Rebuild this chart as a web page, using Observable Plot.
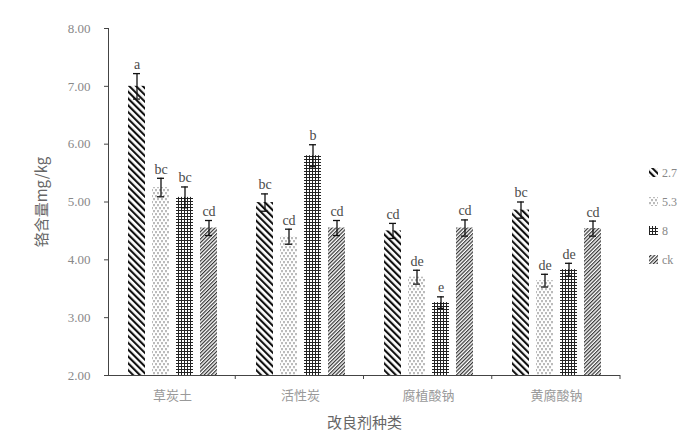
<!DOCTYPE html>
<html><head><meta charset="utf-8">
<script src="https://cdn.jsdelivr.net/npm/d3@7"></script>
<script src="https://cdn.jsdelivr.net/npm/@observablehq/plot@0.6"></script>
<style>
body{margin:0;background:#fff;}
#chart svg{font-family:"Liberation Serif","Noto Sans CJK SC",serif;background:#fff;}
g[aria-label="y-axis label"] text{font-size:15px;fill:#666;font-family:"Noto Sans CJK SC",sans-serif;}
g[aria-label="fx-axis label"] text{font-size:15px;fill:#666;font-family:"Noto Sans CJK SC",sans-serif;}
g[aria-label="fx-axis tick label"] text{font-family:"Noto Sans CJK SC",sans-serif;fill:#999;}
</style></head><body><div id="chart"></div>
<script>
const categories = ["草炭土", "活性炭", "腐植酸钠", "黄腐酸钠"];
const series = ["2.7", "5.3", "8", "ck"];
const values27 = [7.00, 4.99, 4.50, 4.86];
const values53 = [5.25, 4.40, 3.70, 3.64];
const values8  = [5.08, 5.80, 3.26, 3.83];
const valuesCk = [4.55, 4.55, 4.55, 4.54];
const err27 = [0.22, 0.15, 0.13, 0.14];
const err53 = [0.16, 0.13, 0.12, 0.11];
const err8  = [0.18, 0.19, 0.10, 0.11];
const errCk = [0.13, 0.13, 0.14, 0.13];
const sig27 = ["a", "bc", "cd", "bc"];
const sig53 = ["bc", "cd", "de", "de"];
const sig8  = ["bc", "b", "e", "de"];
const sigCk = ["cd", "cd", "cd", "cd"];
const yTicks = [2, 3, 4, 5, 6, 7, 8];

const valueSets = [values27, values53, values8, valuesCk];
const errSets = [err27, err53, err8, errCk];
const sigSets = [sig27, sig53, sig8, sigCk];
const rows = [];
categories.forEach((c, i) => series.forEach((s, j) => rows.push({
  cat: c, series: s, value: valueSets[j][i], err: errSets[j][i], sig: sigSets[j][i]
})));
const patternIds = series.map((s, j) => `pat${j}`);

const plot = Plot.plot({
  width: 697, height: 437,
  marginTop: 28, marginBottom: 62, marginLeft: 107, marginRight: 77,
  fx: {domain: categories, padding: 0},
  x: {domain: series, paddingInner: 0.3, paddingOuter: 0.8, axis: null},
  y: {domain: [2, 8]},
  color: {domain: series, range: patternIds.map(id => `url(#${id})`)},
  style: {fontSize: "13px", color: "#333", background: "#fff"},
  marks: [
    Plot.barY(rows, {fx: "cat", x: "series", y1: 2, y2: "value", fill: "series"}),
    Plot.ruleX(rows, {fx: "cat", x: "series", y1: d => d.value - d.err, y2: d => d.value + d.err, stroke: "#111", strokeWidth: 1.3}),
    Plot.tickY(rows, {fx: "cat", x: "series", y: d => d.value - d.err, insetLeft: 5, insetRight: 5, stroke: "#111", strokeWidth: 1.3}),
    Plot.tickY(rows, {fx: "cat", x: "series", y: d => d.value + d.err, insetLeft: 5, insetRight: 5, stroke: "#111", strokeWidth: 1.3}),
    Plot.text(rows, {fx: "cat", x: "series", y: d => d.value + d.err, text: "sig", dy: -9, fill: "#4a4a4a", fontSize: 14}),
    Plot.ruleY([2], {stroke: "#444"}),
    Plot.frame({anchor: "left", facetAnchor: "left", stroke: "#444"}),
    Plot.axisY({ticks: yTicks, tickFormat: d => d.toFixed(2), tickSize: 4, tickPadding: 14, stroke: "#444", fill: "#888",
      label: "铬含量mg/kg", labelAnchor: "center", labelArrow: "none", labelOffset: 72}),
    Plot.axisFx({anchor: "bottom", tickSize: 0, tickPadding: 15, fontSize: 13, label: "改良剂种类", labelAnchor: "center", labelArrow: "none", labelOffset: 52})
  ]
});
document.getElementById("chart").appendChild(plot);

const svg = d3.select(plot.tagName.toLowerCase() === "svg" ? plot : plot.querySelector("svg"));
const defs = svg.insert("defs", ":first-child");
function addPattern(id, w, h, transform, draw) {
  const p = defs.append("pattern").attr("id", id).attr("patternUnits", "userSpaceOnUse")
    .attr("width", w).attr("height", h);
  if (transform) p.attr("patternTransform", transform);
  p.append("rect").attr("width", w).attr("height", h).attr("fill", "#fff");
  draw(p);
}
addPattern("pat0", 4.8, 4.8, "rotate(-45)", p => p.append("rect").attr("width", 2.1).attr("height", 4.8).attr("fill", "#111"));
addPattern("pat1", 4, 6, null, p => {
  p.append("rect").attr("x", 0.5).attr("y", 0).attr("width", 1).attr("height", 2.2).attr("fill", "#777");
  p.append("rect").attr("x", 2.5).attr("y", 3).attr("width", 1).attr("height", 2.2).attr("fill", "#777");
});
addPattern("pat2", 3, 3, null, p => {
  p.append("rect").attr("width", 3).attr("height", 1).attr("fill", "#222");
  p.append("rect").attr("width", 1).attr("height", 3).attr("fill", "#222");
});
addPattern("pat3", 2.6, 2.6, "rotate(45)", p => p.append("rect").attr("width", 1.2).attr("height", 2.6).attr("fill", "#333"));

// group boundary ticks on the x axis
const fxs = plot.scale("fx");
const [r0, r1] = fxs.range;
const stepFx = (r1 - r0) / categories.length;
const yS = plot.scale("y");
const baseY = yS.apply(2);
categories.forEach((c, i) => {
  const x = r0 + stepFx * (i + 1);
  svg.append("line").attr("x1", x).attr("x2", x).attr("y1", baseY).attr("y2", baseY + 4).attr("stroke", "#444");
});

// legend
const leg = svg.append("g").attr("font-size", 12).attr("fill", "#888").attr("text-anchor", "start");
series.forEach((s, j) => {
  const g = leg.append("g").attr("transform", `translate(649,${173 + j * 29})`);
  g.append("rect").attr("x", 0).attr("y", -5).attr("width", 9).attr("height", 9).attr("fill", `url(#${patternIds[j]})`);
  g.append("text").attr("x", 13).attr("y", 0).attr("dy", "0.35em").attr("text-anchor", "start").text(s);
});
</script></body></html>
